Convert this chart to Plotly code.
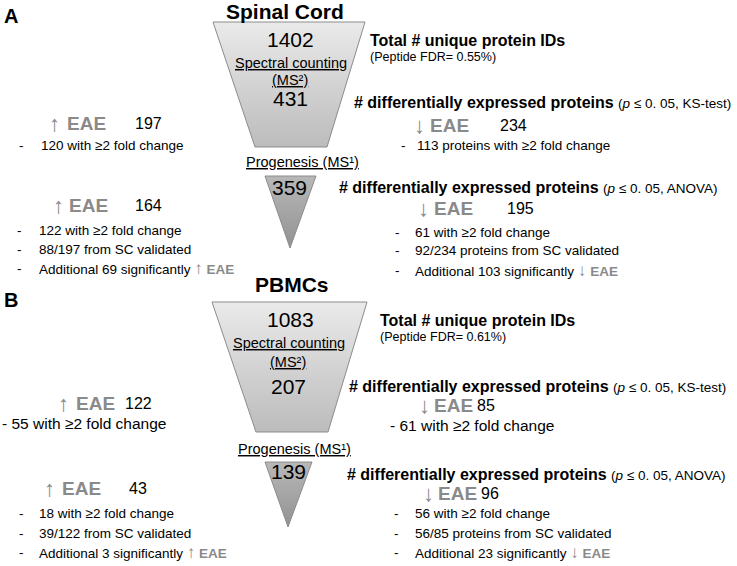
import plotly.graph_objects as go

# ---------------- data ----------------
panel_letters = ["A", "B"]
panel_titles = ["Spinal Cord", "PBMCs"]
total_ids = [1402, 1083]
peptide_fdr = ["0.55%", "0.61%"]
sc_de = [431, 207]            # spectral counting, KS-test
sc_up = [197, 122]
sc_down = [234, 85]
sc_up_fold = [120, 55]
sc_down_fold = [113, 61]
prog_de = [359, 139]          # Progenesis, ANOVA
prog_up = [164, 43]
prog_down = [195, 96]
prog_up_fold = [122, 18]
prog_down_fold = [61, 56]
prog_up_validated = [88, 39]
prog_down_validated = [92, 56]
prog_up_additional = [69, 3]
prog_down_additional = [103, 23]

# ---------------- layout (pixel positions, y measured from top) ----------------
# eae tuples: (arrow x, EAE x, y, number x)
POS = [
    dict(letter=(2, 16), title=(285, 11),
         trap=dict(y0=22, y1=147, top=(213, 365), bot=(255, 327)),
         tri=dict(y0=176, y1=248, top=(265, 316), apex=290),
         total=(290, 39), spectral=(291, 63), ms2=(290, 80), scde=(290, 98),
         prog=(302, 162), progde=(289, 187),
         total_lbl=(368, 40), fdr=(368, 57),
         ks=(352, 102), anova=(337, 187),
         sc_down=(412, 428, 125, 498), sc_down_fold=(399, 415, 145),
         prog_down=(416, 432, 208, 505), prog_down_b=(393, 413, [232, 250, 270]),
         sc_up=(47, 65, 123, 133), sc_up_fold=(17, 39, 145),
         prog_up=(51, 67, 205, 133), prog_up_b=(15, 37, [230, 249, 268]),
         single_fold=False),
    dict(letter=(2, 300), title=(292, 284),
         trap=dict(y0=302, y1=432, top=(212, 367), bot=(256, 328)),
         tri=dict(y0=462, y1=527, top=(265, 312), apex=288),
         total=(290, 319), spectral=(289, 343), ms2=(288, 362), scde=(288, 386),
         prog=(294, 449), progde=(288, 471),
         total_lbl=(378, 320), fdr=(378, 337),
         ks=(347, 386), anova=(345, 474),
         sc_down=(417, 432, 405, 475), sc_down_fold=(388, None, 425),
         prog_down=(421, 436, 493, 479), prog_down_b=(392, 413, [513, 533, 552]),
         sc_up=(56, 74, 403, 123), sc_up_fold=(0, None, 423),
         prog_up=(42, 60, 488, 127), prog_up_b=(17, 37, [513, 533, 552]),
         single_fold=True),
]

FONT = "Liberation Sans, Arial, sans-serif"
GRAY = "#8a8a8a"
W, H = 737, 566

fig = go.Figure()
ann = []


def text(x, y, s, size=14, anchor="left", color="black", underline=False):
    f = dict(family=FONT, size=size, color=color)
    if underline:
        f["lineposition"] = "under"
    ann.append(dict(x=x, y=y, xref="x", yref="y", text=s, showarrow=False,
                    xanchor=anchor, yanchor="middle", font=f))


def eae_inline(arrow):
    return (f"<span style='color:{GRAY}'><span style='font-size:17px'>{arrow}</span>"
            f" <b>EAE</b></span>")


def eae_label(spec, arrow, number):
    axp, exp, y, nx = spec
    text(axp, y, arrow, size=22, color=GRAY)
    text(exp, y, "<b>EAE</b>", size=19, color=GRAY)
    text(nx, y, f"{number}", size=16)


for i in range(2):
    p = POS[i]
    t = p["trap"]
    fig.add_trace(go.Scatter(
        x=[t["top"][0], t["top"][1], t["bot"][1], t["bot"][0], t["top"][0]],
        y=[t["y0"], t["y0"], t["y1"], t["y1"], t["y0"]],
        mode="lines", fill="toself", line=dict(color="#8c8c8c", width=1),
        fillgradient=dict(type="vertical", colorscale=[[0, "#bcbcbc"], [1, "#eaeaea"]]),
        hoverinfo="skip", showlegend=False))
    r = p["tri"]
    fig.add_trace(go.Scatter(
        x=[r["top"][0], r["top"][1], r["apex"], r["top"][0]],
        y=[r["y0"], r["y0"], r["y1"], r["y0"]],
        mode="lines", fill="toself", line=dict(color="#8c8c8c", width=1),
        fillgradient=dict(type="vertical", colorscale=[[0, "#929292"], [1, "#b8b8b8"]]),
        hoverinfo="skip", showlegend=False))

    text(*p["letter"], f"<b>{panel_letters[i]}</b>", size=20)
    text(*p["title"], f"<b>{panel_titles[i]}</b>", size=21, anchor="center")
    text(*p["total"], f"{total_ids[i]}", size=21, anchor="center")
    text(*p["spectral"], "Spectral counting", size=14.5, anchor="center", underline=True)
    text(*p["ms2"], "(MS²)", size=14.5, anchor="center", underline=True)
    text(*p["scde"], f"{sc_de[i]}", size=21, anchor="center")
    text(*p["prog"], "Progenesis (MS¹)", size=14.5, anchor="center", underline=True)
    text(*p["progde"], f"{prog_de[i]}", size=21, anchor="center")

    text(*p["total_lbl"], "<b>Total # unique protein IDs</b>", size=16)
    text(*p["fdr"], f"(Peptide FDR= {peptide_fdr[i]})", size=12.5)
    text(*p["ks"], "<b># differentially expressed proteins</b> "
         "<span style='font-size:13.5px'>(<i>p</i> ≤ 0. 05, KS-test)</span>", size=16)
    text(*p["anova"], "<b># differentially expressed proteins</b> "
         "<span style='font-size:13.5px'>(<i>p</i> ≤ 0. 05, ANOVA)</span>", size=16)

    # spectral counting, up / down
    eae_label(p["sc_up"], "↑", sc_up[i])
    eae_label(p["sc_down"], "↓", sc_down[i])

    if p["single_fold"]:
        dx, _, y = p["sc_up_fold"]
        text(dx, y, f"- {sc_up_fold[i]} with ≥2 fold change", size=15.5)
        dx, _, y = p["sc_down_fold"]
        text(dx, y, f"- {sc_down_fold[i]} with ≥2 fold change", size=15.5)
    else:
        dx, tx, y = p["sc_up_fold"]
        text(dx, y, "-", size=13.5)
        text(tx, y, f"{sc_up_fold[i]} with ≥2 fold change", size=13.5)
        dx, tx, y = p["sc_down_fold"]
        text(dx, y, "-", size=13.5)
        text(tx, y, f"{sc_down_fold[i]} proteins with ≥2 fold change", size=13.5)

    # progenesis, up / down
    eae_label(p["prog_up"], "↑", prog_up[i])
    eae_label(p["prog_down"], "↓", prog_down[i])

    up_lines = [f"{prog_up_fold[i]} with ≥2 fold change",
                f"{prog_up_validated[i]}/{sc_up[i]} from SC validated",
                f"Additional {prog_up_additional[i]} significantly {eae_inline('↑')}"]
    down_lines = [f"{prog_down_fold[i]} with ≥2 fold change",
                  f"{prog_down_validated[i]}/{sc_down[i]} proteins from SC validated",
                  f"Additional {prog_down_additional[i]} significantly {eae_inline('↓')}"]
    dx, tx, ys = p["prog_up_b"]
    for s, y in zip(up_lines, ys):
        text(dx, y, "-", size=13.5)
        text(tx, y, s, size=13.5)
    dx, tx, ys = p["prog_down_b"]
    for s, y in zip(down_lines, ys):
        text(dx, y, "-", size=13.5)
        text(tx, y, s, size=13.5)

fig.update_layout(
    width=W, height=H, margin=dict(l=0, r=0, t=0, b=0),
    paper_bgcolor="white", plot_bgcolor="white",
    xaxis=dict(range=[0, W], visible=False, fixedrange=True),
    yaxis=dict(range=[H, 0], visible=False, fixedrange=True),
    annotations=ann, showlegend=False,
)
fig.write_html("out.html", config={"displayModeBar": False},
               post_script="document.body.style.margin='0px';")
